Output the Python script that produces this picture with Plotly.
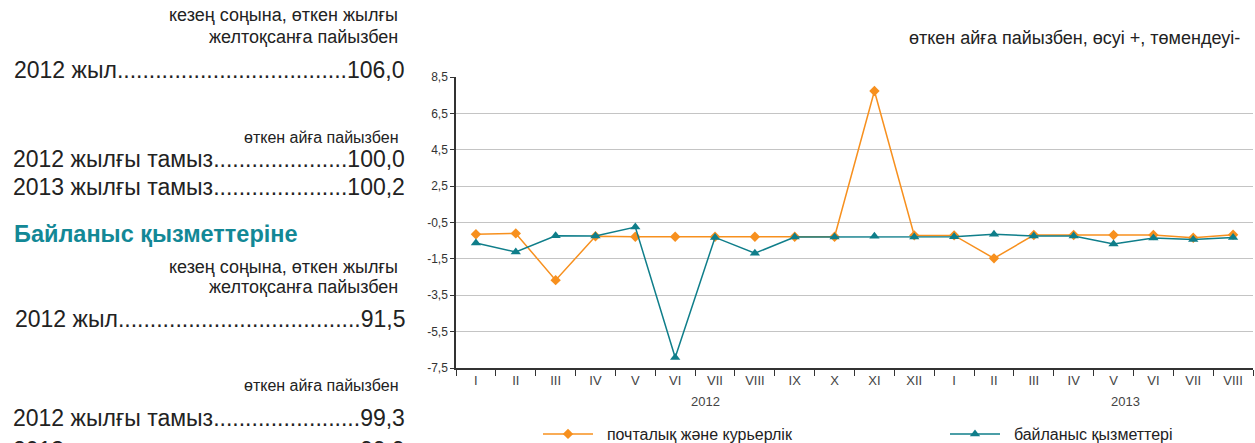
import plotly.graph_objects as go

months = ['I', 'II', 'III', 'IV', 'V', 'VI', 'VII', 'VIII', 'IX', 'X', 'XI', 'XII',
          'I', 'II', 'III', 'IV', 'V', 'VI', 'VII', 'VIII']
postal = [-0.15, -0.1, -2.67, -0.26, -0.28, -0.28, -0.28, -0.28, -0.28, -0.28, 7.73, -0.21,
          -0.21, -1.47, -0.19, -0.19, -0.19, -0.19, -0.34, -0.17]
comm = [-0.63, -1.12, -0.23, -0.24, 0.25, -6.92, -0.32, -1.19, -0.3, -0.3, -0.26, -0.3,
        -0.28, -0.15, -0.24, -0.24, -0.68, -0.35, -0.43, -0.32]
ytick_vals = [8.5, 6.5, 4.5, 2.5, 0.5, -1.5, -3.5, -5.5, -7.5]
ytick_text = ['8,5', '6,5', '4,5', '2,5', '-0,5', '-1,5', '-3,5', '-5,5', '-7,5']

ORANGE = '#f7901e'
TEAL = '#0f7e8a'
W, H = 1255, 443
L, R, T, B = 456, 2, 77, 75
pw, ph = W - L - R, H - T - B

def px(x):
    return (x - L) / pw

def py(y):
    return (H - B - y) / ph

x = list(range(len(months)))
NARROW = 'Liberation Sans Narrow, Arial Narrow, Liberation Sans, Arial'
SP = '\u00a0\u00a0'

fig = go.Figure()
fig.add_trace(go.Scatter(x=x, y=postal, mode='lines+markers', name=SP + 'почталық және курьерлік',
                         line=dict(color=ORANGE, width=1.5),
                         marker=dict(symbol='diamond', size=8, color=ORANGE), legend='legend'))
fig.add_trace(go.Scatter(x=x, y=comm, mode='lines+markers', name=SP + 'байланыс қызметтері',
                         line=dict(color=TEAL, width=1.5),
                         marker=dict(symbol='triangle-up', size=9, color=TEAL), legend='legend2'))

leg = dict(xanchor='left', yanchor='middle', itemwidth=50,
           font=dict(size=16, color='#222222'), bgcolor='rgba(0,0,0,0)')
fig.update_layout(
    width=W, height=H,
    margin=dict(l=L, r=R, t=T, b=B, autoexpand=False),
    paper_bgcolor='white', plot_bgcolor='white',
    font=dict(family=NARROW, color='#333333', size=11),
    legend=dict(leg, x=px(538), y=py(434)),
    legend2=dict(leg, x=px(945), y=py(434)),
    showlegend=True,
)
fig.update_xaxes(range=[-0.5, len(months) - 0.5], tickmode='array', tickvals=x, ticktext=months,
                 ticks='', showgrid=False, showline=True, linecolor='#333333', linewidth=1.5,
                 tickfont=dict(size=13, color='#444444'), zeroline=False,
                 minor=dict(tickmode='array', tickvals=[i - 0.5 for i in range(len(months) + 1)],
                            ticks='outside', ticklen=6, tickcolor='#333333', tickwidth=1, showgrid=False))
fig.update_yaxes(range=[-7.5, 8.5], tickmode='array', tickvals=ytick_vals, ticktext=ytick_text,
                 ticks='outside', ticklen=4, tickcolor='#333333', showgrid=True, gridcolor='#c4c4c4',
                 gridwidth=1.2, showline=True, linecolor='#333333', linewidth=1.5, zeroline=False,
                 tickfont=dict(size=12, color='#333333', family='Liberation Sans, Arial'))

ann = []
def text(t, xp, yp, size, anchor='right', color='#222222', bold=False, family='Liberation Sans, Arial'):
    ann.append(dict(text=('<b>%s</b>' % t) if bold else t, x=px(xp), y=py(yp), xref='paper', yref='paper',
                    xanchor=anchor, yanchor='middle', showarrow=False,
                    font=dict(size=size, color=color, family=family)))

text('өткен айға пайызбен, өсуі +, төмендеуі-', 1242, 38, 18)
text('2012', 5.75 * 39.85 + 476, 401, 13, anchor='center', color='#444444', family=NARROW)
text('2013', 16.3 * 39.85 + 476, 401, 13, anchor='center', color='#444444', family=NARROW)

text('кезең соңына, өткен жылғы', 400, 15, 18)
text('желтоқсанға пайызбен', 400, 37, 18)
text('2012 жыл' + '.' * 36 + '106,0', 407, 70, 23)
text('өткен айға пайызбен', 400, 137, 16)
text('2012 жылғы тамыз' + '.' * 21 + '100,0', 407, 159, 23)
text('2013 жылғы тамыз' + '.' * 21 + '100,2', 407, 187, 23)
text('Байланыс қызметтеріне', 12, 234, 23.5, anchor='left', color='#138896', bold=True)
text('кезең соңына, өткен жылғы', 400, 267, 18)
text('желтоқсанға пайызбен', 400, 287, 18)
text('2012 жыл' + '.' * 38 + '91,5', 407, 319, 23)
text('өткен айға пайызбен', 400, 385, 16)
text('2012 жылғы тамыз' + '.' * 23 + '99,3', 407, 418, 23)
text('2013 жылғы тамыз' + '.' * 23 + '99,9', 407, 450, 23)

fig.update_layout(annotations=ann)
fig.write_html('out.html', config={'displayModeBar': False},
               post_script="document.body.style.margin='0';")
